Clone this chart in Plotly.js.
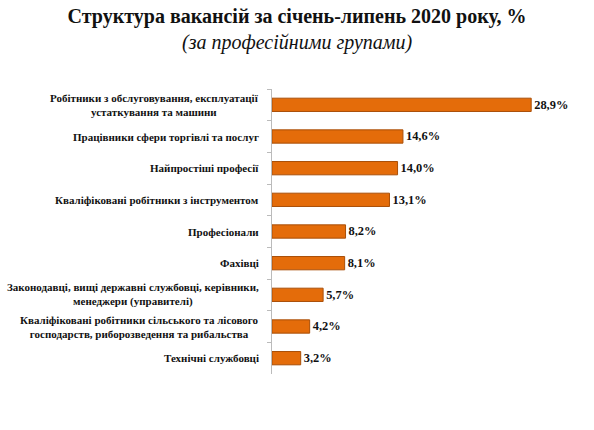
<!DOCTYPE html>
<html><head><meta charset="utf-8">
<script src="https://cdn.plot.ly/plotly-3.0.1.min.js"></script>
<style>html,body{margin:0;padding:0;background:#fff}#chart{width:594px;height:430px}</style>
</head><body><div id="chart"></div>
<script>
const categories = [
  "Робітники з обслуговування, експлуатації<br>устаткування та машини",
  "Працівники сфери торгівлі та послуг",
  "Найпростіші професії",
  "Кваліфіковані робітники з інструментом",
  "Професіонали",
  "Фахівці",
  "Законодавці, вищі державні службовці, керівники,<br>менеджери (управителі)",
  "Кваліфіковані робітники сільського та лісового<br>господарств, риборозведення та рибальства",
  "Технічні службовці"
];
const values = [28.9, 14.6, 14.0, 13.1, 8.2, 8.1, 5.7, 4.2, 3.2];
const valueLabels = ["28,9%", "14,6%", "14,0%", "13,1%", "8,2%", "8,1%", "5,7%", "4,2%", "3,2%"];

const serif = "'Liberation Serif', 'Times New Roman', serif";

const trace = {
  type: "bar",
  orientation: "h",
  y: categories,
  x: values,
  text: valueLabels,
  textposition: "outside",
  texttemplate: "<b>%{text}</b>",
  cliponaxis: false,
  textfont: {family: serif, size: 14, color: "#111"},
  marker: {color: "#E46C0A", line: {color: "#A94F08", width: 1}},
  hoverinfo: "none"
};

const annotations = categories.map(c => ({
  xref: "paper", yref: "y", x: 0, y: c,
  xanchor: "right", yanchor: "middle", xshift: -11,
  text: "<b>" + c + "</b>", showarrow: false, align: "center",
  font: {family: serif, size: 11, color: "#111"}
}));
annotations.push({
  xref: "paper", yref: "paper", x: (297 - 272) / 287, y: 1, yshift: 47, xanchor: "center", yanchor: "middle",
  text: "<i>(за професійними групами)</i>", showarrow: false,
  font: {family: serif, size: 20, color: "#111"}
});

const layout = {
  width: 594, height: 430,
  margin: {l: 272, r: 35, t: 89, b: 56},
  paper_bgcolor: "#fff", plot_bgcolor: "#fff",
  font: {family: serif},
  title: {text: "<b>Структура вакансій за січень-липень 2020 року, %</b>",
          x: 0.5, xanchor: "center", y: 0.962, yanchor: "middle",
          font: {family: serif, size: 20, color: "#111"}},
  showlegend: false,
  bargap: 0.58,
  xaxis: {range: [0, 32], visible: false, fixedrange: true},
  yaxis: {autorange: "reversed", type: "category", showticklabels: false,
          showline: true, linecolor: "#bbb", linewidth: 1,
          ticks: "outside", tickson: "boundaries", ticklen: 4, tickcolor: "#bbb",
          showgrid: false, zeroline: false},
  annotations: annotations
};

Plotly.newPlot("chart", [trace], layout, {staticPlot: true, displayModeBar: false});
</script>
</body></html>
